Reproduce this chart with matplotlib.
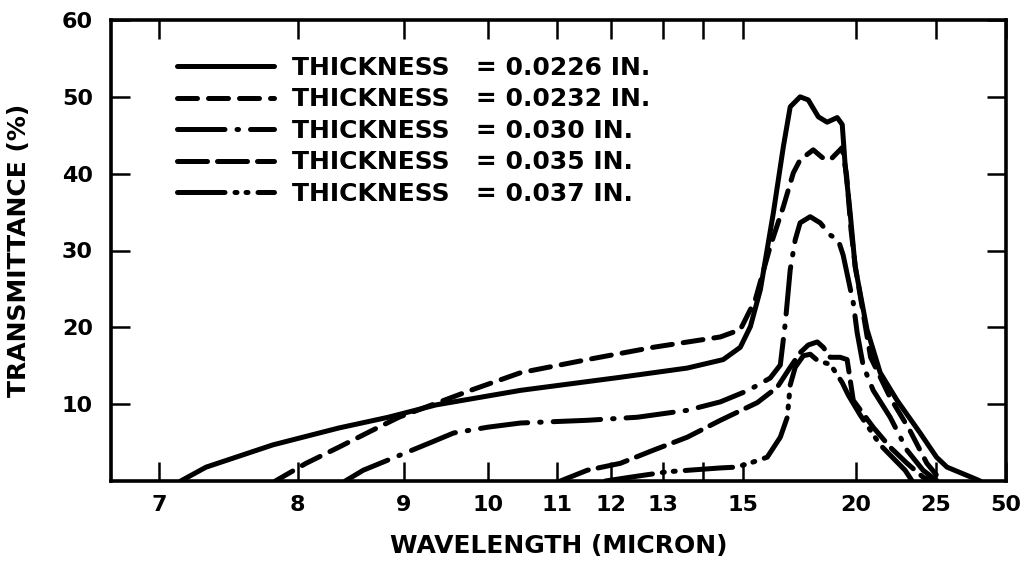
import numpy as np
import matplotlib.pyplot as plt
from matplotlib.scale import FuncScale

plt.rcParams['font.family'] = 'DejaVu Sans'
plt.rcParams['font.weight'] = 'bold'

scale_wl = np.array([6.0, 7, 8, 9, 10, 11, 12, 13, 14, 15, 20, 25, 50, 100])
scale_px = np.array([-27, 158, 297, 403, 487, 557, 611, 663, 703, 743, 856, 936, 1006, 1041])

xticks = [7, 8, 9, 10, 11, 12, 13, 14, 15, 20, 25, 50]
xticklabels = ['7', '8', '9', '10', '11', '12', '13', '', '15', '20', '25', '50']
yticks = [10, 20, 30, 40, 50, 60]

labels = ['THICKNESS   = 0.0226 IN.', 'THICKNESS   = 0.0232 IN.',
          'THICKNESS   = 0.030 IN.', 'THICKNESS   = 0.035 IN.',
          'THICKNESS   = 0.037 IN.']

wl_0226 = [7.14, 7.31, 7.80, 8.36, 8.84, 9.36, 10.45, 12.16, 13.58, 14.48, 14.92, 15.24,
           15.59, 16.07, 16.46, 16.74, 17.16, 17.52, 17.99, 18.42, 18.94, 19.21, 19.37,
           19.65, 19.94, 20.56, 21.28, 22.28, 23.81, 25.08, 27.13, 33.98, 36.5]
t_0226 = [0, 1.8, 4.7, 6.9, 8.3, 9.9, 11.8, 13.5, 14.7, 15.8, 17.4, 20.1,
          24.9, 34.9, 43.5, 48.7, 50.0, 49.6, 47.4, 46.7, 47.3, 46.4, 41.1,
          34.9, 27.9, 19.7, 14.1, 10.5, 6.25, 3.1, 1.8, 0.4, 0]

wl_0232 = [7.82, 8.07, 8.36, 8.68, 8.95, 9.78, 10.45, 11.53, 12.79, 14.41, 14.92, 15.41,
           15.95, 16.46, 16.87, 17.16, 17.75, 18.18, 18.58, 19.21, 19.45, 19.7, 19.95,
           20.75, 21.85, 23.1, 24.3, 26.0]
t_0232 = [0, 2.3, 4.4, 6.6, 8.3, 11.8, 14.1, 15.8, 17.4, 18.75, 19.7, 23.6,
          30.5, 35.7, 40.1, 41.8, 43.1, 42.1, 41.8, 43.4, 39.8, 32.7, 27.9,
          16.1, 10.9, 6.6, 2.3, 0]

wl_030 = [8.42, 8.59, 9.32, 9.57, 10.0, 10.45, 11.53, 12.48, 13.58, 14.41, 15.17, 15.95,
          16.34, 16.54, 16.74, 16.95, 17.16, 17.61, 18.08, 18.58, 18.99, 19.26, 19.83,
          20.05, 20.36, 20.89, 21.86, 22.92, 24.02, 25.2]
t_030 = [0, 1.4, 5.1, 6.25, 7.0, 7.55, 7.9, 8.3, 9.2, 10.3, 11.8, 13.4,
         15.1, 20.6, 27.5, 31.4, 33.6, 34.4, 33.6, 32.0, 31.4, 29.4, 23.2,
         19.3, 15.0, 11.8, 8.3, 4.0, 1.4, 0]

wl_035 = [11.05, 11.53, 12.16, 12.79, 13.58, 14.41, 15.48, 16.22, 16.74, 17.16, 17.52,
          17.94, 18.23, 18.58, 19.10, 19.48, 19.83, 20.89, 21.86, 22.92, 24.02, 24.7]
t_035 = [0, 1.4, 2.3, 4.0, 5.7, 7.9, 10.2, 12.2, 14.8, 16.7, 17.7,
         18.1, 17.4, 16.1, 16.1, 15.8, 10.5, 7.0, 4.4, 2.3, 0.5, 0]

wl_037 = [11.88, 12.35, 13.09, 14.41, 14.79, 15.13, 15.84, 16.34, 16.62, 16.74, 16.95,
          17.30, 17.61, 17.99, 18.58, 19.21, 19.54, 20.2, 21.28, 22.79, 23.26]
t_037 = [0, 0.5, 1.2, 1.7, 1.8, 2.2, 3.1, 5.7, 8.3, 12.5, 14.8,
         16.3, 16.5, 15.6, 15.2, 12.8, 11.2, 8.6, 4.7, 1.4, 0]


def fwd(x):
    x = np.asarray(x, float)
    with np.errstate(divide='ignore', invalid='ignore'):
        w = -1.0 / x
    return np.interp(w, -1.0 / scale_wl, scale_px)


def inv(p):
    return -1.0 / np.interp(np.asarray(p, float), scale_px, -1.0 / scale_wl)


fig = plt.figure(figsize=(10.25, 5.72), dpi=100)
ax = fig.add_axes([111 / 1025, 91 / 572, 895 / 1025, 461 / 572])
ax.set_xscale(FuncScale(ax, (fwd, inv)))

lw = 3.6
styles = [
    dict(linestyle='-'),
    dict(linestyle=(0, (4.0, 2.2))),
    dict(linestyle=(0, (9.5, 2.4, 0.3, 2.4))),
    dict(linestyle=(0, (6.0, 2.0))),
    dict(linestyle=(0, (9.5, 2.0, 0.4, 1.8, 0.4, 2.0))),
]
series = [(wl_0226, t_0226), (wl_0232, t_0232), (wl_030, t_030),
          (wl_035, t_035), (wl_037, t_037)]
for (wl, t), st, lab in zip(series, styles, labels):
    ax.plot(wl, t, color='black', lw=lw, dash_capstyle='round',
            solid_capstyle='round', solid_joinstyle='round', label=lab, **st)

ax.set_xlim(6.71, 50)
ax.set_ylim(0, 60)
ax.set_xticks(xticks)
ax.set_xticklabels(xticklabels)
ax.set_yticks(yticks)
ax.minorticks_off()

ax.tick_params(direction='in', length=14, width=1.8, top=True, right=True,
               labelsize=16)
ax.tick_params(axis='x', pad=10)
ax.tick_params(axis='y', pad=13)
for s in ax.spines.values():
    s.set_linewidth(2.6)

ax.set_xlabel('WAVELENGTH (MICRON)', fontsize=18, fontweight='bold', labelpad=14)
ax.set_ylabel('TRANSMITTANCE (%)', fontsize=18, fontweight='bold', labelpad=22)

ax.legend(loc='upper left', bbox_to_anchor=(0.0737, 0.922), frameon=False,
          fontsize=18, handlelength=3.9, handletextpad=0.7, labelspacing=0.3,
          borderpad=0, borderaxespad=0)

fig.savefig('out.png', dpi=100)
